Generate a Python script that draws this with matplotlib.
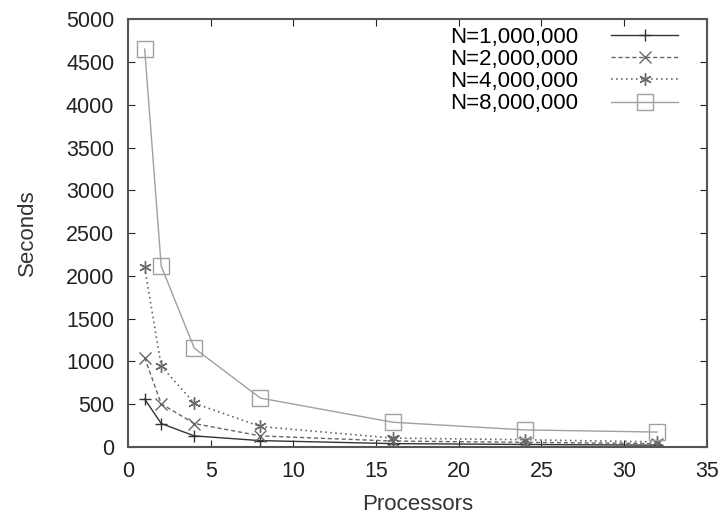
import matplotlib
matplotlib.use("Agg")
import matplotlib.pyplot as plt

processors = [1, 2, 4, 8, 16, 24, 32]
labels = ["N=1,000,000", "N=2,000,000", "N=4,000,000", "N=8,000,000"]
t_1m = [560, 275, 130, 75, 40, 30, 22]
t_2m = [1045, 505, 275, 130, 70, 55, 40]
t_4m = [2100, 946, 512, 240, 105, 85, 60]
t_8m = [4650, 2115, 1155, 572, 290, 200, 175]

plt.rcParams['font.family'] = ['Liberation Sans', 'DejaVu Sans']

fig = plt.figure(figsize=(7.24, 5.18), dpi=100)
ax = fig.add_axes([0.177, 0.137, 0.799, 0.826])

styles = [
    dict(color='#333333', linestyle='-', marker='+', markersize=9, linewidth=1.0),
    dict(color='#666666', linestyle=(0, (3, 2)), marker='x', markersize=9, linewidth=1.0),
    dict(color='#6a6a6a', linestyle=(0, (1, 2)), marker=(6, 2, 0), markersize=9, linewidth=1.2),
    dict(color='#a0a0a0', linestyle='-', marker='s', markersize=11, linewidth=1.0,
         markerfacecolor='none'),
]
for ys, lab, st in zip([t_1m, t_2m, t_4m, t_8m], labels, styles):
    ax.plot(processors, ys, label=lab, markeredgewidth=1.0, **st)

ax.set_xlim(0, 35)
ax.set_ylim(0, 5000)
ax.set_xticks(range(0, 36, 5))
ax.set_yticks(range(0, 5001, 500))
ax.tick_params(direction='in', top=True, right=True, labelsize=15.5, length=5,
               colors='#222222', pad=10)
for sp in ax.spines.values():
    sp.set_color('#555555')
    sp.set_linewidth(1.5)
ax.set_xlabel('Processors', fontsize=16, color='#333333', labelpad=9)
ax.set_ylabel('Seconds', fontsize=16, color='#333333', labelpad=20)

ax.legend(loc='upper right', frameon=False, markerfirst=False, fontsize=16,
          handlelength=3.0, labelspacing=0.05, borderaxespad=0, borderpad=0,
          handletextpad=1.5,
          bbox_to_anchor=(678 / 724, 1 - 27 / 518), bbox_transform=fig.transFigure)

fig.savefig('out.png', dpi=100)
